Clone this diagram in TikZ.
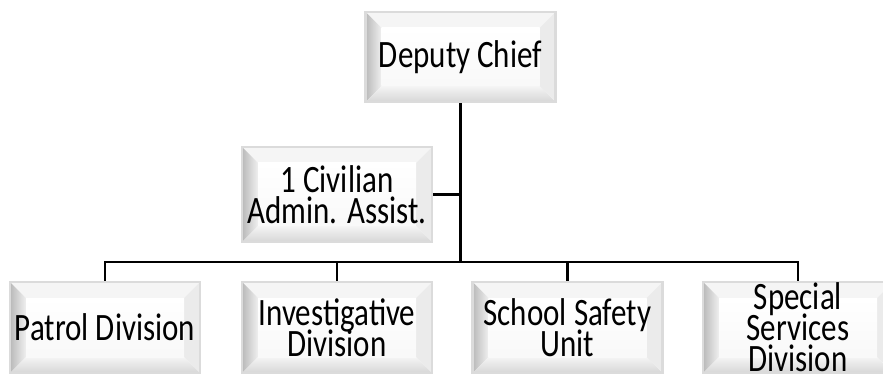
\documentclass[tikz,border=0pt]{standalone}
\usepackage{fontspec}
\setmainfont{Carlito}
\usepackage{xcolor}
\usetikzlibrary{calc}
\newcommand{\tall}[1]{\scalebox{1}[1.25]{\vbox{\baselineskip=24.8pt\lineskiplimit=-50pt
    \halign{\hfil##\hfil\cr#1\crcr}}}}

\begin{document}
\begin{tikzpicture}[x=1pt,y=1pt]
        \useasboundingbox (0,0) rectangle (883,375);
        \tikzstyle{orgbox}=[draw=gray!28,line width=2.5pt,rectangle,fill=white,
            minimum width=190pt,minimum height=91pt,inner sep=0pt,
            font=\fontsize{31}{24.8}\selectfont,
            path picture={
                \coordinate (bl) at (path picture bounding box.south west);
                \coordinate (tr) at (path picture bounding box.north east);
                \coordinate (ibl) at ($(bl)+(16pt,16pt)$);
                \coordinate (itr) at ($(tr)+(-16pt,-16pt)$);
                % bevel sides and face
                \fill[gray!8] (bl |- tr) -- (tr) -- (itr) -- (ibl |- itr) -- cycle;
                \shade[left color=gray!55,right color=gray!12] (bl) -- (bl |- tr) -- (ibl |- itr) -- (ibl) -- cycle;
                \shade[top color=gray!8,bottom color=gray!32] (bl) -- (tr |- bl) -- (itr |- ibl) -- (ibl) -- cycle;
                \fill[gray!16] (tr |- bl) -- (tr) -- (itr) -- (itr |- ibl) -- cycle;
                \shade[top color=white,bottom color=gray!5] (ibl) rectangle (itr);
            }]
        \tikzstyle{link}=[line width=2.6pt,black]
        \node[orgbox,minimum height=90pt] (chief) at (460.5,318) {\tall{Deputy Chief}};
        \node[orgbox,minimum height=95pt] (admin) at (337,180.5) {\tall{1 Civilian\cr Admin. Assist.}};
        % Divisions
        \node[orgbox] (patrol) at (105,47.5) {\tall{Patrol Division}};
        \node[orgbox] (invest) at (337,47.5) {\tall{Investigative\cr Division}};
        \node[orgbox] (school) at (567.5,47.5) {\tall{School Safety\cr Unit}};
        \node[orgbox] (special) at (798,47.5) {\tall{Special\cr Services\cr Division}};
        \coordinate (bus) at (0,113);
        \draw[link] (chief.south) -- (chief.south |- bus);
        \draw[link] (admin.east) -- (admin.east -| chief.south);
        \draw[link] (patrol.north) -- (patrol.north |- bus) -- (special.north |- bus) -- (special.north);
        \draw[link] (invest.north) -- (invest.north |- bus);
        \draw[link] (school.north) -- (school.north |- bus);
    \end{tikzpicture}
\end{document}
